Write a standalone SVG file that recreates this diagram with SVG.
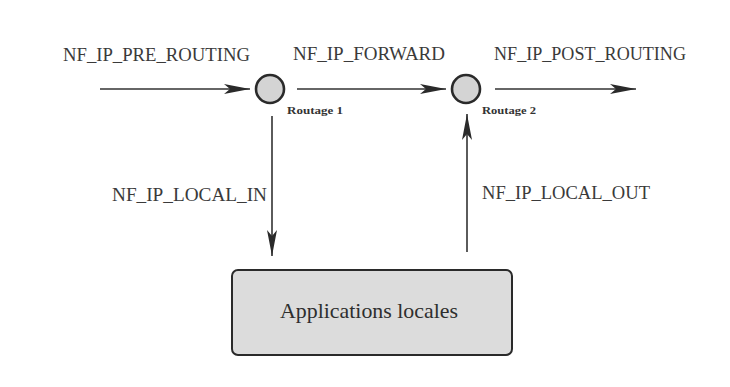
<svg xmlns="http://www.w3.org/2000/svg" width="730" height="387" viewBox="0 0 730 387">
  <defs>
    <style>
      .hook { font-family: "Liberation Serif", "Times New Roman", serif; font-size: 19px; fill: #3a3a3a; }
      .small { font-family: "Liberation Serif", "Times New Roman", serif; font-size: 11px; fill: #333; font-weight: bold; }
      .app { font-family: "Liberation Serif", "Times New Roman", serif; font-size: 22px; fill: #2e2e2e; }
      .wire { stroke: #333; stroke-width: 1.6; fill: none; }
      .router { fill: #d4d4d4; stroke: #2a2a2a; stroke-width: 2.6; }
      .box { fill: #dcdcdc; stroke: #2a2a2a; stroke-width: 2; }
    </style>
    <marker id="head" viewBox="0 0 26 10" refX="26" refY="5" markerWidth="26" markerHeight="10" markerUnits="userSpaceOnUse" orient="auto">
      <path d="M0,0 L26,5 L0,10 L6,5 Z" fill="#2a2a2a"/>
    </marker>
  </defs>

  <rect width="730" height="387" fill="#ffffff"/>

  <g id="connectors">
    <line class="wire" x1="100" y1="89" x2="250" y2="89" marker-end="url(#head)"/>
    <line class="wire" x1="297" y1="89" x2="446" y2="89" marker-end="url(#head)"/>
    <line class="wire" x1="495" y1="89" x2="636" y2="89" marker-end="url(#head)"/>
    <line class="wire" x1="272" y1="116" x2="272" y2="256" marker-end="url(#head)"/>
    <line class="wire" x1="467" y1="252" x2="467" y2="114" marker-end="url(#head)"/>
  </g>

  <g id="labels">
    <text class="hook" x="63" y="61" textLength="187" lengthAdjust="spacingAndGlyphs">NF_IP_PRE_ROUTING</text>
    <text class="hook" x="293" y="60" textLength="152" lengthAdjust="spacingAndGlyphs">NF_IP_FORWARD</text>
    <text class="hook" x="494" y="60" textLength="192" lengthAdjust="spacingAndGlyphs">NF_IP_POST_ROUTING</text>
    <text class="hook" x="112" y="201" textLength="155" lengthAdjust="spacingAndGlyphs">NF_IP_LOCAL_IN</text>
    <text class="hook" x="482" y="199" textLength="168" lengthAdjust="spacingAndGlyphs">NF_IP_LOCAL_OUT</text>
  </g>

  <g id="routage1">
    <circle class="router" cx="270" cy="89" r="14"/>
    <text class="small" x="287" y="114" textLength="56" lengthAdjust="spacingAndGlyphs">Routage 1</text>
  </g>

  <g id="routage2">
    <circle class="router" cx="466" cy="89" r="14"/>
    <text class="small" x="482" y="114" textLength="54" lengthAdjust="spacingAndGlyphs">Routage 2</text>
  </g>

  <g id="applications">
    <rect class="box" x="232" y="270" width="280" height="85" rx="6"/>
    <text class="app" x="280" y="318" textLength="178" lengthAdjust="spacingAndGlyphs">Applications locales</text>
  </g>
</svg>
